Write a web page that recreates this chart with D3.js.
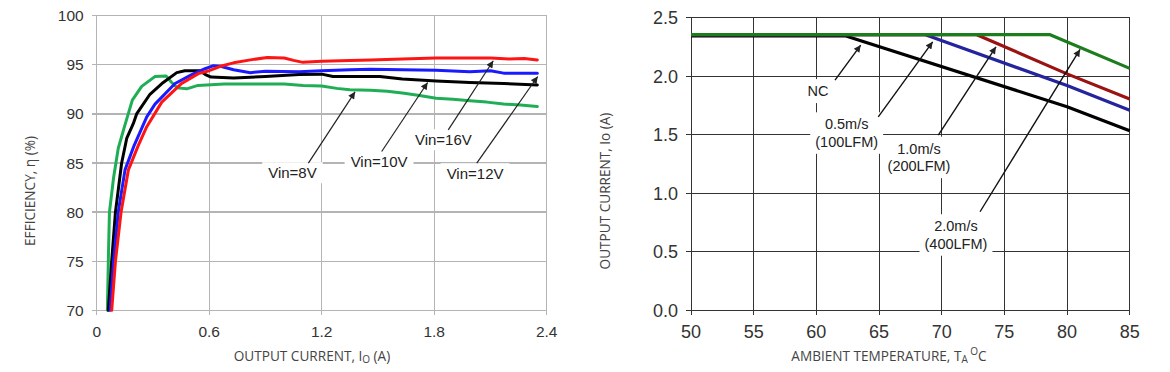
<!DOCTYPE html>
<html>
<head>
<meta charset="utf-8">
<script src="https://cdn.jsdelivr.net/npm/d3@7"></script>
<style>
html,body{margin:0;padding:0;background:#fff;}
svg{display:block;}
.tick-l{font-family:"Liberation Sans",Arial,sans-serif;fill:#333;}
.title{font-family:"Open Sans","Noto Sans",sans-serif;fill:#444;font-size:13.6px;}
.ann{font-family:"Liberation Sans",Arial,sans-serif;fill:#222;}
</style>
</head>
<body>
<svg id="chart" width="1170" height="372"></svg>
<script>
// ---------- LEFT: efficiency vs output current ----------
const effXTicks = [0, 0.6, 1.2, 1.8, 2.4];
const effYTicks = [70, 75, 80, 85, 90, 95, 100];

const vin8X  = [0.057,0.063,0.068,0.09,0.115,0.145,0.19,0.24,0.31,0.37,0.40,0.43,0.48,0.54,0.68,0.85,1.0,1.1,1.2,1.28,1.35,1.46,1.55,1.64,1.73,1.81,1.9,1.99,2.08,2.17,2.26,2.35];
const vin8Y  = [70,76,80,83.5,86.5,88.5,91.4,92.8,93.8,93.85,93.2,92.65,92.55,92.9,93.05,93.05,93.05,92.9,92.85,92.6,92.45,92.4,92.3,92.1,91.85,91.6,91.5,91.35,91.2,91.0,90.9,90.75];
const vin10X = [0.062,0.08,0.10,0.133,0.16,0.195,0.213,0.284,0.355,0.427,0.47,0.55,0.58,0.61,0.73,0.9,1.08,1.2,1.26,1.4,1.51,1.63,1.81,1.99,2.17,2.35];
const vin10Y = [70,75,80,85,87.5,89,90,92,93.2,94.2,94.4,94.4,94.0,93.75,93.65,93.8,94.0,94.05,93.8,93.8,93.8,93.55,93.35,93.2,93.1,92.95];
const vin12X = [0.071,0.09,0.115,0.151,0.2,0.267,0.311,0.418,0.507,0.578,0.62,0.66,0.73,0.82,0.9,1.08,1.2,1.35,1.46,1.63,1.81,1.99,2.1,2.17,2.35];
const vin12Y = [70,75,80,84.3,86.8,89.7,91.0,93.1,94.0,94.6,94.9,94.85,94.5,94.2,94.35,94.3,94.4,94.5,94.55,94.5,94.45,94.3,94.4,94.15,94.15];
const vin16X = [0.08,0.1,0.13,0.169,0.222,0.267,0.347,0.453,0.542,0.6,0.66,0.73,0.82,0.91,1.0,1.05,1.1,1.2,1.35,1.46,1.63,1.81,1.99,2.1,2.2,2.28,2.35];
const vin16Y = [70,75,80,84.3,86.8,88.7,91.2,93.1,94.1,94.4,94.85,95.2,95.5,95.75,95.7,95.45,95.25,95.35,95.45,95.5,95.6,95.7,95.7,95.7,95.6,95.65,95.5];

const effSeriesNames  = ["Vin=8V","Vin=10V","Vin=12V","Vin=16V"];
const effSeriesColors = ["#1fae55","#000000","#1a1aff","#ff1414"];

// annotation: label, text x, text y, arrow start x,y, arrow tip x,y (data units)
const effAnnLabels = ["Vin=8V","Vin=10V","Vin=16V","Vin=12V"];
const effAnnText   = [[1.044,84.0],[1.506,85.15],[1.849,87.36],[2.018,83.9]];
const effAnnFrom   = [[1.129,84.98],[1.52,86.17],[1.875,88.38],[2.027,84.98]];
const effAnnTo     = [[1.378,92.25],[1.765,93.2],[2.115,95.41],[2.352,93.81]];

// ---------- RIGHT: derating ----------
const derXTicks = [50,55,60,65,70,75,80,85];
const derYTicks = [0,0.5,1.0,1.5,2.0,2.5];
const ncT   = [50,62.3,80,85];       const ncI   = [2.345,2.345,1.74,1.535];
const ms05T = [50,68.7,80,85];       const ms05I = [2.355,2.355,1.92,1.71];
const ms10T = [50,72.8,80,85];       const ms10I = [2.355,2.355,2.02,1.805];
const ms20T = [50,78.65,85];         const ms20I = [2.355,2.355,2.067];
const derColors = ["#000000","#24249e","#9a1212","#1c7d1c"];

const derAnnLines = [["NC"],["0.5m/s","(100LFM)"],["1.0m/s","(200LFM)"],["2.0m/s","(400LFM)"]];
const derAnnText  = [[60.13,1.875],[62.42,1.591],[68.19,1.383],[71.14,0.72]];
const derAnnFrom  = [[61.49,1.967],[64.94,1.653],[69.73,1.497],[73.06,0.842]];
const derAnnTo    = [[63.54,2.266],[69.28,2.294],[74.33,2.251],[81.04,2.229]];

const svg = d3.select("#chart");
const defs = svg.append("defs");
defs.append("marker").attr("id","arr").attr("viewBox","0 0 10 10").attr("refX",10).attr("refY",5)
  .attr("markerWidth",9).attr("markerHeight",7).attr("markerUnits","userSpaceOnUse").attr("orient","auto")
  .append("path").attr("d","M0,0L10,5L0,10z").attr("fill","#222");

function drawChart(opt){
  const g = svg.append("g");
  const x = d3.scaleLinear().domain(opt.xDom).range(opt.xRange);
  const y = d3.scaleLinear().domain(opt.yDom).range(opt.yRange);
  g.selectAll(".vg").data(opt.xTicks).join("line")
    .attr("x1",d=>x(d)).attr("x2",d=>x(d)).attr("y1",opt.yRange[0]+(opt.tickLen)).attr("y2",opt.yRange[1])
    .attr("stroke",opt.gridColor).attr("stroke-width",opt.gridW).attr("shape-rendering","crispEdges");
  g.selectAll(".hg").data(opt.yTicks).join("line")
    .attr("x1",opt.xRange[0]-opt.tickLen).attr("x2",opt.xRange[1]).attr("y1",d=>y(d)).attr("y2",d=>y(d))
    .attr("stroke",opt.gridColor).attr("stroke-width",opt.gridW).attr("shape-rendering","crispEdges");
  g.selectAll(".xl").data(opt.xTicks).join("text").attr("class","tick-l")
    .attr("x",d=>x(d)).attr("y",opt.yRange[0]+opt.xLabOff).attr("text-anchor","middle")
    .attr("font-size",opt.fs).text(d=>opt.xFmt(d));
  g.selectAll(".yl").data(opt.yTicks).join("text").attr("class","tick-l")
    .attr("x",opt.xRange[0]-opt.yLabOff).attr("y",d=>y(d)).attr("dy","0.36em").attr("text-anchor","end")
    .attr("font-size",opt.fs).text(d=>opt.yFmt(d));
  return {g,x,y};
}

// ----- left chart -----
const L = drawChart({xDom:[0,2.4], xRange:[96.7,546.7], yDom:[70,100], yRange:[310.3,15.7],
  xTicks:effXTicks, yTicks:effYTicks, gridColor:"#b4b4b4", gridW:1.3, tickLen:5, fs:15.5,
  xLabOff:27, yLabOff:13, xFmt:d=>d===0?"0":d3.format(".1f")(d), yFmt:d=>d});

const lineL = d3.line().x(d=>L.x(d[0])).y(d=>L.y(d[1]));
const effData = [[vin8X,vin8Y],[vin10X,vin10Y],[vin12X,vin12Y],[vin16X,vin16Y]];
effData.forEach((s,i)=>{
  L.g.append("path").datum(s[0].map((v,k)=>[v,s[1][k]])).attr("d",lineL)
    .attr("fill","none").attr("stroke",effSeriesColors[i]).attr("stroke-width",3)
    .attr("stroke-linejoin","round").attr("stroke-linecap","round");
});
effAnnLabels.forEach((lab,i)=>{
  const tx=L.x(effAnnText[i][0]), ty=L.y(effAnnText[i][1]);
  const t = L.g.append("text").attr("class","ann").attr("font-size",15).attr("x",tx).attr("y",ty)
    .attr("dy","0.36em").attr("text-anchor","middle").text(lab);
  const bb = t.node().getBBox();
  L.g.insert("rect","text.ann").attr("x",bb.x-6).attr("y",bb.y-2).attr("width",bb.width+12).attr("height",bb.height+4).attr("fill","#fff");
  L.g.append("line").attr("x1",L.x(effAnnFrom[i][0])).attr("y1",L.y(effAnnFrom[i][1]))
    .attr("x2",L.x(effAnnTo[i][0])).attr("y2",L.y(effAnnTo[i][1]))
    .attr("stroke","#222").attr("stroke-width",1.2).attr("marker-end","url(#arr)");
});
const lt = svg.append("text").attr("class","title").attr("transform","translate(35,191) rotate(-90)").attr("text-anchor","middle");
lt.text("EFFICIENCY, η  (%)");
const lx = svg.append("text").attr("class","title").attr("x",312).attr("y",361).attr("text-anchor","middle");
lx.append("tspan").text("OUTPUT CURRENT, I");
lx.append("tspan").attr("font-size",10).attr("dy",2).text("O");
lx.append("tspan").attr("dy",-2).text(" (A)");

// ----- right chart -----
const R = drawChart({xDom:[50,85], xRange:[691,1129.7], yDom:[0,2.5], yRange:[310.3,17.7],
  xTicks:derXTicks, yTicks:derYTicks, gridColor:"#333333", gridW:1, tickLen:5, fs:18,
  xLabOff:28, yLabOff:13, xFmt:d=>d, yFmt:d=>d3.format(".1f")(d)});

const lineR = d3.line().x(d=>R.x(d[0])).y(d=>R.y(d[1]));
const derData = [[ncT,ncI],[ms05T,ms05I],[ms10T,ms10I],[ms20T,ms20I]];
derData.forEach((s,i)=>{
  R.g.append("path").datum(s[0].map((v,k)=>[v,s[1][k]])).attr("d",lineR)
    .attr("fill","none").attr("stroke",derColors[i]).attr("stroke-width",3.2).attr("stroke-linejoin","round");
});
derAnnLines.forEach((lines,i)=>{
  const tx=R.x(derAnnText[i][0]), ty=R.y(derAnnText[i][1]);
  const t = R.g.append("text").attr("class","ann").attr("font-size",14.5).attr("text-anchor","middle");
  lines.forEach((ln,k)=>t.append("tspan").attr("x",tx).attr("y",ty+k*17.5).attr("dy","0.36em").text(ln));
  const bb = t.node().getBBox();
  R.g.insert("rect","text.ann").attr("x",bb.x-5).attr("y",bb.y-4).attr("width",bb.width+10).attr("height",bb.height+8).attr("fill","#fff");
  R.g.append("line").attr("x1",R.x(derAnnFrom[i][0])).attr("y1",R.y(derAnnFrom[i][1]))
    .attr("x2",R.x(derAnnTo[i][0])).attr("y2",R.y(derAnnTo[i][1]))
    .attr("stroke","#111").attr("stroke-width",1.4).attr("marker-end","url(#arr)");
});
const rt = svg.append("text").attr("class","title").attr("transform","translate(610,191) rotate(-90)").attr("text-anchor","middle");
rt.text("OUTPUT CURRENT, Io  (A)");
const rx = svg.append("text").attr("class","title").attr("x",889).attr("y",361).attr("text-anchor","middle");
rx.append("tspan").text("AMBIENT TEMPERATURE, T");
rx.append("tspan").attr("font-size",10).attr("dy",2).text("A");
rx.append("tspan").attr("font-size",10).attr("dy",-8).text(" O");
rx.append("tspan").attr("dy",6).text("C");
</script>
</body>
</html>
